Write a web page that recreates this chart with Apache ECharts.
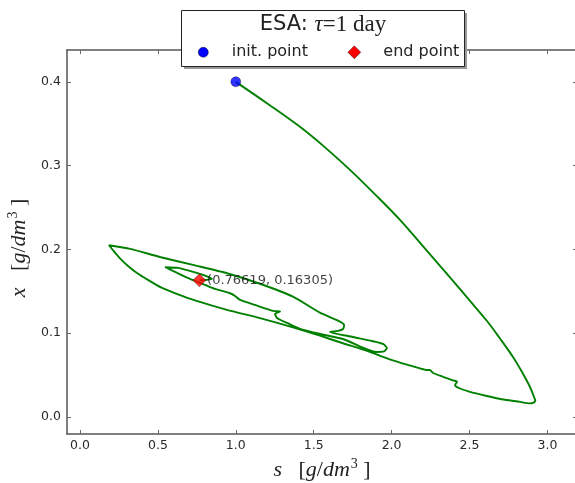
<!DOCTYPE html>
<html><head><meta charset="utf-8">
<script src="https://cdn.jsdelivr.net/npm/echarts@6/dist/echarts.min.js"></script>
<style>html,body{margin:0;padding:0;background:#fff}#c{width:575px;height:483px}</style>
</head><body><div id="c"></div>
<script>
// first leg of the trajectory: from the initial point down to the right tip
const descentS = [1.000, 1.2067, 1.4120, 1.5725, 1.7330, 1.8935, 2.0539, 2.2272, 2.3941, 2.5032, 2.6123, 2.6958, 2.7792, 2.8370, 2.8883, 2.9140, 2.9236];
const descentX = [0.400, 0.3736, 0.3463, 0.3218, 0.2949, 0.2657, 0.2352, 0.1982, 0.1624, 0.1385, 0.1146, 0.0937, 0.0716, 0.0537, 0.0358, 0.0239, 0.0191];
// rest of the trajectory: spiralling in to the end point
const spiralS = [
  2.9236, 2.908, 2.885, 2.824, 2.696, 2.612, 2.503, 2.439, 2.407, 2.420, 2.388, 2.330, 2.266, 2.246, 2.227, 2.182, 2.035, 1.926, 1.842, 1.688, 1.540, 1.367, 1.155,
  0.9435, 0.7381, 0.6290, 0.5199, 0.4365, 0.3659, 0.3081, 0.2567, 0.2182, 0.186,
  0.321, 0.513, 0.725, 0.944, 1.155, 1.367, 1.540, 1.656, 1.695, 1.688, 1.656, 1.605,
  1.752, 1.874, 1.945, 1.970, 1.951, 1.900, 1.836, 1.688, 1.540, 1.412, 1.329, 1.264, 1.252, 1.284, 1.239, 1.123, 1.027, 0.995, 0.963, 0.866, 0.802,
  0.706, 0.610, 0.546, 0.629, 0.738, 0.815, 0.847, 0.76619
];
const spiralX = [
  0.0191, 0.0168, 0.0162, 0.0180, 0.0215, 0.0250, 0.0300, 0.0340, 0.0380, 0.0420, 0.0440, 0.0480, 0.0525, 0.0560, 0.0560, 0.0580, 0.0660, 0.0730, 0.0790, 0.0880, 0.0970, 0.1070, 0.1180,
  0.1278, 0.1391, 0.1463, 0.1546, 0.1636, 0.1719, 0.1803, 0.1893, 0.1976, 0.2050,
  0.2006, 0.1910, 0.1815, 0.1716, 0.1590, 0.1436, 0.1245, 0.1150, 0.1100, 0.1050, 0.1027, 0.1015,
  0.0955, 0.0907, 0.0872, 0.0824, 0.0782, 0.0776, 0.0812, 0.0931, 0.0991, 0.1051, 0.1122, 0.1182, 0.1230, 0.1260, 0.1266, 0.1337, 0.1397, 0.1445, 0.1477, 0.1528, 0.1576,
  0.1648, 0.1731, 0.1787, 0.1779, 0.1725, 0.1678, 0.1648, 0.16305
];
const initPoint = [1.0, 0.4];
const endPoint = [0.76619, 0.16305];
const endLabel = '(0.76619, 0.16305)';
const xTickValues = [0.0, 0.5, 1.0, 1.5, 2.0, 2.5, 3.0];
const yTickValues = [0.0, 0.1, 0.2, 0.3, 0.4];
const legendNames = ['init. point', 'end point'];

const chart = echarts.init(document.getElementById('c'));
const sansFont = 'DejaVu Sans';
const serifFont = 'Liberation Serif';
const mathRich = {
  i: {fontFamily: serifFont, fontStyle: 'italic', fontSize: 22, color: '#222', lineHeight: 26},
  r: {fontFamily: serifFont, fontSize: 22, color: '#222', lineHeight: 26},
  sup: {fontFamily: serifFont, fontSize: 14, color: '#222', verticalAlign: 'top', lineHeight: 26, padding: [0, 0, 9, 1]}
};
const X_MIN = -0.0834, X_MAX = 3.19, Y_MIN = -0.0203, Y_MAX = 0.438;
function baseAxis(ticks, lineColor, extra) {
  return Object.assign({
    type: 'value',
    splitLine: {show: false},
    axisLine: {show: true, onZero: false, lineStyle: {color: lineColor, width: 1.5}},
    axisTick: {show: true, inside: true, length: 4, customValues: ticks, lineStyle: {color: '#666', width: 1}},
  }, extra);
}
const option = {
  animation: false,
  backgroundColor: '#fff',
  grid: {left: 67, top: 50, width: 510, height: 384, outerBoundsMode: 'none', containLabel: false},
  xAxis: [
    baseAxis(xTickValues, '#555', {
      position: 'bottom', min: X_MIN, max: X_MAX,
      axisLabel: {show: true, customValues: xTickValues, formatter: v => v.toFixed(1), fontFamily: sansFont, fontSize: 12.5, color: '#2a2a2a', margin: 5},
      name: '{i|s}{r|   [}{i|g}{r|/}{i|dm}{sup|3}{r| ]}',
      nameLocation: 'middle', nameGap: 16,
      nameTextStyle: {rich: mathRich}
    }),
    baseAxis(xTickValues, '#555', {position: 'top', min: X_MIN, max: X_MAX, axisLabel: {show: false}})
  ],
  yAxis: [
    baseAxis(yTickValues, '#555', {
      position: 'left', min: Y_MIN, max: Y_MAX,
      axisLabel: {show: true, customValues: yTickValues, formatter: v => v.toFixed(1), fontFamily: sansFont, fontSize: 12.5, color: '#2a2a2a', margin: 6},
      name: '{i|x}{r|   [}{i|g}{r|/}{i|dm}{sup|3}{r| ]}',
      nameLocation: 'middle', nameGap: 32, nameRotate: 90,
      nameTextStyle: {rich: mathRich, padding: [0, 12, 0, 0]}
    }),
    baseAxis(yTickValues, 'rgba(0,0,0,0)', {position: 'right', min: Y_MIN, max: Y_MAX, axisLabel: {show: false}})
  ],
  series: [
    {
      type: 'line', data: descentS.map((s, i) => [s, descentX[i]]),
      showSymbol: false, symbol: 'none', smooth: 0.35,
      lineStyle: {color: '#008000', width: 1.9}, z: 2, silent: true
    },
    {
      type: 'line', data: spiralS.map((s, i) => [s, spiralX[i]]),
      showSymbol: false, symbol: 'none', smooth: 0.2,
      lineStyle: {color: '#008000', width: 1.9}, z: 2, silent: true
    },
    {
      name: legendNames[0], type: 'scatter', data: [initPoint],
      symbol: 'circle', symbolSize: 10,
      itemStyle: {color: '#0000ff', borderColor: '#000', borderWidth: 0.4}, z: 3
    },
    {
      name: legendNames[1], type: 'scatter', data: [endPoint],
      symbol: 'diamond', symbolSize: 13,
      itemStyle: {color: '#ff0000', borderColor: '#000', borderWidth: 0.4}, z: 4,
      label: {show: true, position: 'right', distance: 1, formatter: endLabel, fontFamily: sansFont, fontSize: 13, color: '#111'}
    }
  ],
  graphic: [
    {type: 'rect', shape: {x: 184, y: 13, width: 283, height: 56}, style: {fill: '#999'}, z: 100},
    {type: 'rect', shape: {x: 181.5, y: 10.5, width: 283, height: 56}, style: {fill: '#fff', stroke: '#222', lineWidth: 1}, z: 101},
    {type: 'text', x: 323, y: 25, z: 102, style: {
      text: '{a|ESA: }{t|τ}{b|=1 day}', align: 'center', verticalAlign: 'middle',
      rich: {
        a: {fontFamily: sansFont, fontSize: 21, fill: '#222', color: '#222'},
        t: {fontFamily: serifFont, fontStyle: 'italic', fontSize: 23, fill: '#222', color: '#222'},
        b: {fontFamily: serifFont, fontSize: 23, fill: '#222', color: '#222'}
      }
    }},
    {type: 'circle', shape: {cx: 203.3, cy: 52.3, r: 5}, style: {fill: '#0000ff', stroke: '#000', lineWidth: 0.4}, z: 102},
    {type: 'text', x: 231.7, y: 52, z: 102, style: {text: legendNames[0], fontFamily: sansFont, fontSize: 16, fill: '#222', verticalAlign: 'middle'}},
    {type: 'polygon', shape: {points: [[354.3, 45.8], [360.8, 52.3], [354.3, 58.8], [347.8, 52.3]]}, style: {fill: '#ff0000', stroke: '#000', lineWidth: 0.4}, z: 102},
    {type: 'text', x: 383.3, y: 52, z: 102, style: {text: legendNames[1], fontFamily: sansFont, fontSize: 16, fill: '#222', verticalAlign: 'middle'}}
  ]
};
chart.setOption(option);
</script>
</body></html>
